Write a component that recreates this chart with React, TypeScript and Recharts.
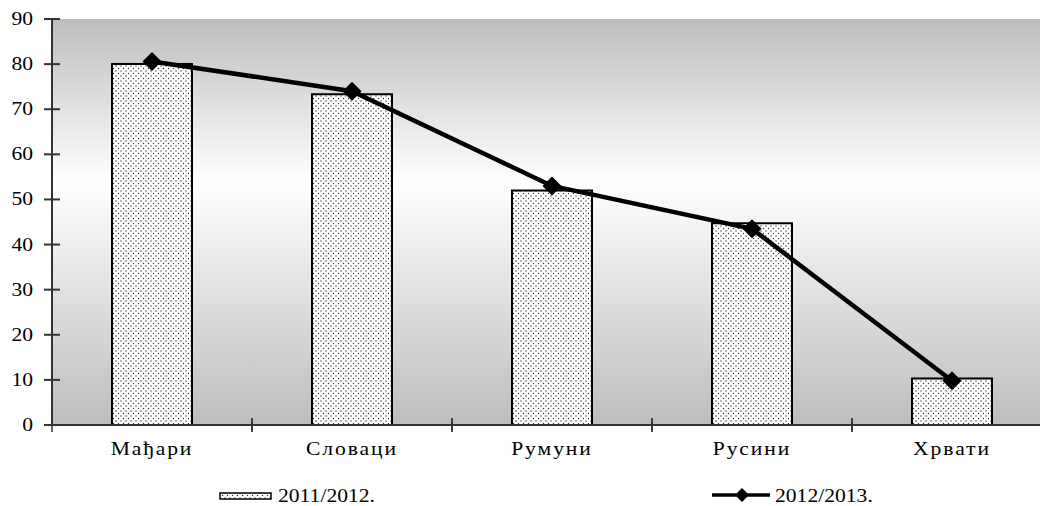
import {
  ComposedChart,
  Bar,
  Line,
  XAxis,
  YAxis,
  CartesianGrid,
  Legend,
} from "recharts";

const categories = ["Мађари", "Словаци", "Румуни", "Русини", "Хрвати"];
const values2011 = [80, 73.3, 52, 44.7, 10.3];
const values2012 = [80.6, 74, 53, 43.5, 9.8];
const yTicks = [0, 10, 20, 30, 40, 50, 60, 70, 80, 90];
const seriesNames = ["2011/2012.", "2012/2013."];

const data = categories.map((name, i) => ({
  name,
  a: values2011[i],
  b: values2012[i],
}));

const CHART_W = 1060;
const MARGIN_R = 8;
const Y_W = 52;
const PLOT_W = CHART_W - MARGIN_R - Y_W;
const BAND = PLOT_W / categories.length;
const FONT = "'Liberation Serif', 'Times New Roman', serif";

// text in the original is a bit stretched sideways
function YTick(props: any) {
  const { x, y, payload } = props;
  return (
    <g>
      <line x1={x} x2={x + 16} y1={y} y2={y} stroke="#333" strokeWidth={2} />
      <text
        transform={`translate(${x - 11} ${y}) scale(1.2 1)`}
        dy={6}
        textAnchor="end"
        fontSize={18}
        fontFamily={FONT}
        fill="#000"
      >
        {payload.value}
      </text>
    </g>
  );
}

function XTick(props: any) {
  const { x, y, payload } = props;
  return (
    <g>
      <line x1={x - BAND / 2} x2={x - BAND / 2} y1={y - 14} y2={y} stroke="#333" strokeWidth={1.5} />
      <line x1={x + BAND / 2} x2={x + BAND / 2} y1={y - 14} y2={y} stroke="#333" strokeWidth={1.5} />
      <text
        transform={`translate(${x} ${y + 23}) scale(1.2 1)`}
        textAnchor="middle"
        fontSize={18}
        letterSpacing={1.6}
        fontFamily={FONT}
        fill="#000"
      >
        {payload.value}
      </text>
    </g>
  );
}

function Diamond(props: any) {
  const { cx, cy } = props;
  if (cx == null || cy == null) return null;
  const s = 9.5;
  return (
    <path
      d={`M${cx},${cy - s} L${cx + s},${cy} L${cx},${cy + s} L${cx - s},${cy} Z`}
      fill="#000"
    />
  );
}

const legendText: any = {
  position: "absolute",
  top: 11,
  fontSize: 18,
  lineHeight: "20px",
  transform: "scaleX(1.2)",
  transformOrigin: "left",
  whiteSpace: "nowrap",
};

function LegendContent() {
  return (
    <div style={{ position: "relative", width: 1040, height: 31, fontFamily: FONT, color: "#000" }}>
      <svg width={54} height={10} style={{ position: "absolute", left: 219, top: 17 }}>
        <rect x={1} y={1} width={51} height={6} fill="url(#dots)" stroke="#000" strokeWidth={1.5} />
      </svg>
      <span style={{ ...legendText, left: 278 }}>{seriesNames[0]}</span>
      <svg width={60} height={20} style={{ position: "absolute", left: 711, top: 10 }}>
        <line x1={1} x2={59} y1={10} y2={10} stroke="#000" strokeWidth={3.5} />
        <path d="M31,3 L38,10 L31,17 L24,10 Z" fill="#000" />
      </svg>
      <span style={{ ...legendText, left: 775 }}>{seriesNames[1]}</span>
    </div>
  );
}

export default function App() {
  return (
    <div style={{ position: "absolute", left: 0, top: 0, width: 1040, height: 506, overflow: "hidden", background: "#fff" }}>
      <ComposedChart
        width={CHART_W}
        height={506}
        data={data}
        margin={{ top: 19, right: MARGIN_R, bottom: 0, left: 0 }}
        barCategoryGap="30%"
      >
        <defs>
          <linearGradient id="bg" x1="0" y1="0" x2="0" y2="1">
            <stop offset="0%" stopColor="#bdbdbd" />
            <stop offset="40%" stopColor="#ffffff" />
            <stop offset="100%" stopColor="#bdbdbd" />
          </linearGradient>
          <pattern id="dots" width="5" height="5" patternUnits="userSpaceOnUse">
            <rect width="5" height="5" fill="#fff" />
            <circle cx="1" cy="1" r="0.7" fill="#333" />
            <circle cx="3.5" cy="3.5" r="0.7" fill="#333" />
          </pattern>
        </defs>
        <CartesianGrid horizontal={false} vertical={false} fill="url(#bg)" />
        <XAxis
          dataKey="name"
          height={50}
          tickLine={false}
          tickSize={7}
          tickMargin={0}
          tick={<XTick />}
          axisLine={{ stroke: "#333", strokeWidth: 2 }}
          interval={0}
        />
        <YAxis
          width={Y_W}
          domain={[0, 90]}
          ticks={yTicks}
          tickLine={false}
          tickSize={8}
          tickMargin={0}
          tick={<YTick />}
          axisLine={{ stroke: "#333", strokeWidth: 2 }}
          interval={0}
        />
        <Legend verticalAlign="bottom" height={31} content={<LegendContent />} />
        <Bar dataKey="a" name={seriesNames[0]} fill="url(#dots)" stroke="#000" strokeWidth={2} isAnimationActive={false} />
        <Line
          dataKey="b"
          name={seriesNames[1]}
          type="linear"
          stroke="#000"
          strokeWidth={4.5}
          dot={<Diamond />}
          activeDot={false}
          isAnimationActive={false}
        />
      </ComposedChart>
    </div>
  );
}
